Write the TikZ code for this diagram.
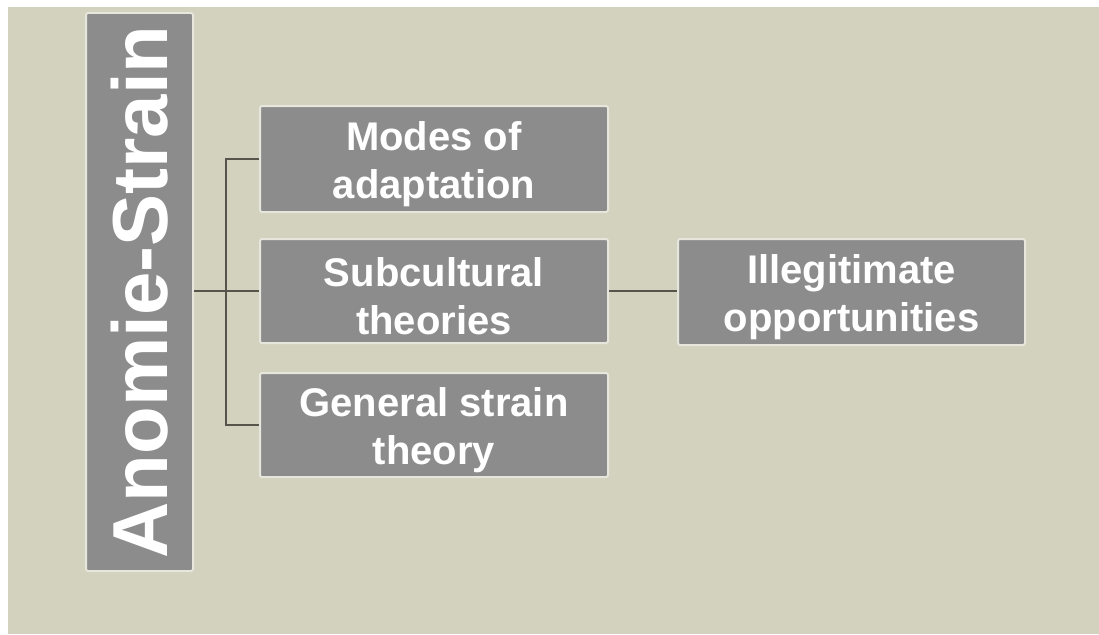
\documentclass[tikz,border=0pt]{standalone}
\usepackage{fontspec}
\setmainfont{Liberation Sans}
\definecolor{canvas}{HTML}{D3D2BE}
\definecolor{boxfill}{HTML}{8C8C8C}
\definecolor{boxrim}{HTML}{E6E6DC}
\definecolor{wire}{HTML}{55554C}
% taller first line so two-line labels sit a little low in their boxes
\newcommand{\toplift}{\rule{0pt}{39pt}}
\tikzset{
  topic/.style={rectangle, fill=boxfill, draw=boxrim, line width=2pt,
    rounded corners=1.5pt, text=white, inner sep=0pt, align=center,
    font=\fontsize{40}{48}\selectfont\bfseries},
  link/.style={draw=wire, line width=1.8pt}
}
\begin{document}
\begin{tikzpicture}[x=1pt, y=-1pt]
  \useasboundingbox (0,0) rectangle (1099,634);
  \fill[white] (0,0) rectangle (1099,634);
  \fill[canvas] (8,7) rectangle (1099,634);

  % root box, text running bottom to top
  \node[topic, rotate=90, minimum width=558pt, minimum height=107pt,
        font=\fontsize{78}{90}\selectfont\bfseries] (root) at (139.5,292) {Anomie-Strain};

  % first level
  \node[topic, minimum width=348pt, minimum height=106pt] (modes) at (434,159) {\toplift Modes of\\adaptation};
  \node[topic, minimum width=348pt, minimum height=104pt] (sub) at (434,291) {\toplift Subcultural\\theories};
  \node[topic, minimum width=348pt, minimum height=104pt] (gen) at (434,425) {\toplift General strain\\theory};

  % second level
  \node[topic, minimum width=347pt, minimum height=106pt] (illeg) at (851.5,292) {\toplift Illegitimate\\opportunities};

  % connectors
  \draw[link] (root.south |- sub.west) -- (sub.west);
  \draw[link] (modes.west) -- ++(-33,0) coordinate (bus) |- (gen.west);
  \draw[link] (sub.east) -- (illeg.west |- sub.east);
\end{tikzpicture}
\end{document}
